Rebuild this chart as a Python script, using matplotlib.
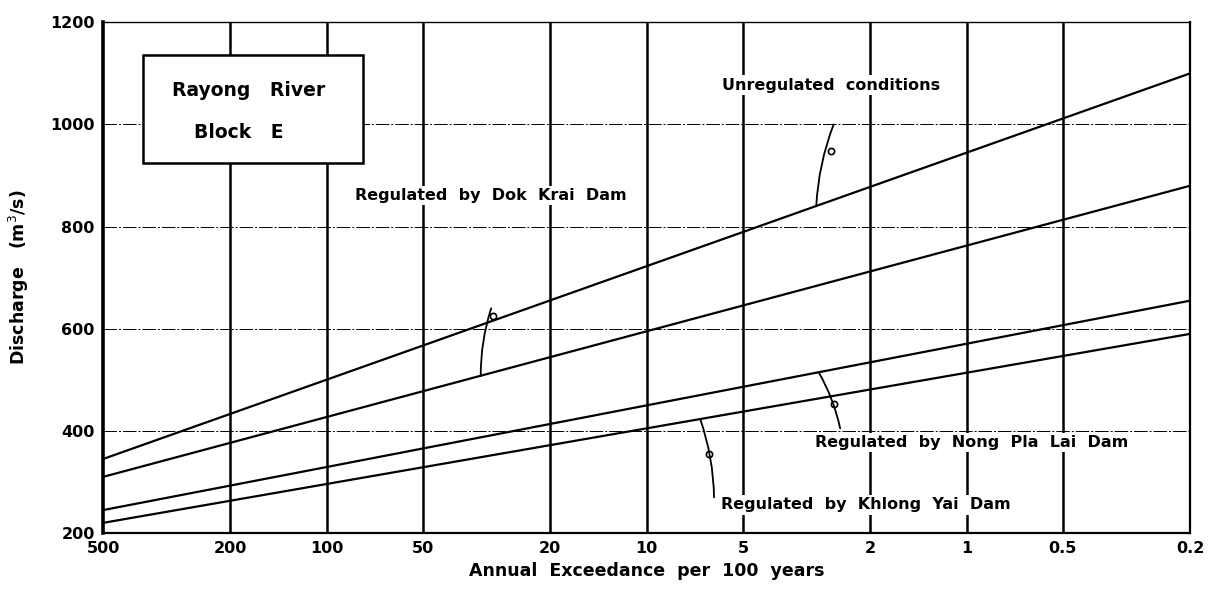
import numpy as np
import matplotlib.pyplot as plt
from matplotlib.patches import Rectangle

# Frequência de excedência (por 100 anos) e vazões das curvas
excedencia = [500, 0.2]
q_natural = [345, 1100]        # Unregulated conditions
q_dok_krai = [310, 880]
q_nong_pla_lai = [245, 655]
q_khlong_yai = [220, 590]

ticks_x = [500, 200, 100, 50, 20, 10, 5, 2, 1, 0.5, 0.2]
labels_x = ['500', '200', '100', '50', '20', '10', '5', '2', '1', '0.5', '0.2']
ticks_y = [200, 400, 600, 800, 1000, 1200]

fonte = {'family': 'DejaVu Sans', 'weight': 'bold', 'color': 'black'}

fig = plt.figure(figsize=(12.08, 6.01), dpi=100)
ax = fig.add_axes([0.0853, 0.113, 0.900, 0.850])

ax.set_xscale('log')
ax.set_xlim(500, 0.2)
ax.set_ylim(200, 1200)

# grade: verticais grossas, horizontais finas tracejadas
for t in ticks_x[1:-1]:
    ax.axvline(t, color='black', lw=1.8, zorder=1)
for t in ticks_y[1:-1]:
    ax.axhline(t, color='black', lw=0.7, ls=(0, (14, 2, 2, 2)), zorder=1)

# curvas
curvas = [q_natural, q_dok_krai, q_nong_pla_lai, q_khlong_yai]
for q in curvas:
    ax.plot(excedencia, q, color='black', lw=1.6, zorder=2, solid_capstyle='butt')

ax.set_xticks(ticks_x)
ax.set_xticklabels(labels_x)
ax.minorticks_off()
ax.set_yticks(ticks_y)
ax.tick_params(length=0, pad=6)
for lb in ax.get_xticklabels() + ax.get_yticklabels():
    lb.set_fontsize(11.5)
    lb.set_fontweight('bold')

ax.spines['left'].set_linewidth(2.6)
ax.spines['bottom'].set_linewidth(1.6)
ax.spines['right'].set_linewidth(1.6)
ax.spines['top'].set_linewidth(1.0)

ax.set_xlabel('Annual  Exceedance  per  100  years', fontdict=fonte, fontsize=12.5, labelpad=4)
ax.set_ylabel('Discharge   (m$^3$/s)', fontdict=fonte, fontsize=12.5, labelpad=14)

# quadro do título
ax.add_patch(Rectangle((0.037, 0.724), 0.202, 0.211, transform=ax.transAxes,
                       facecolor='white', edgecolor='black', lw=1.8, zorder=4))
ax.text(0.134, 0.867, 'Rayong   River', transform=ax.transAxes, ha='center', va='center',
        fontdict=fonte, fontsize=13.5, zorder=5)
ax.text(0.125, 0.785, 'Block   E', transform=ax.transAxes, ha='center', va='center',
        fontdict=fonte, fontsize=13.5, zorder=5)

caixa = dict(facecolor='white', edgecolor='none', pad=1.5)


def valor(q, e):
    # interpolação linear em log da excedência
    return np.interp(np.log10(e), np.log10(excedencia[::-1]), q[::-1])


# rótulos com linha de chamada:
# (texto, curva, excedência no ponto, posição do texto, fim da chamada, posição do laço)
rotulos = [
    ('Unregulated  conditions', q_natural, 2.95, (0.569, 0.877), (0.672, 0.80), 0.32),
    ('Regulated  by  Dok  Krai  Dam', q_dok_krai, 33.0, (0.232, 0.661), (0.357, 0.44), 0.12),
    ('Regulated  by  Nong  Pla  Lai  Dam', q_nong_pla_lai, 2.9, (0.655, 0.178), (0.678, 0.205), 0.43),
    ('Regulated  by  Khlong  Yai  Dam', q_khlong_yai, 6.8, (0.568, 0.055), (0.562, 0.070), 0.55),
]
for texto, q, e, pos, fim, f in rotulos:
    ax.text(pos[0], pos[1], texto, transform=ax.transAxes, ha='left', va='center',
            fontdict=fonte, fontsize=11.5, bbox=caixa, zorder=5)
    ax.annotate('', xy=(e, valor(q, e)), xycoords='data',
                xytext=fim, textcoords='axes fraction',
                arrowprops=dict(arrowstyle='-', color='black', lw=1.3,
                                connectionstyle='arc3,rad=0.08', shrinkA=0, shrinkB=0),
                zorder=3)
    # pequeno laço desenhado na chamada
    xa, ya = ax.transAxes.transform(fim)
    xb, yb = ax.transData.transform((e, valor(q, e)))
    xl = xa + f * (xb - xa) + 3
    yl = ya + f * (yb - ya)
    ax.plot(xl, yl, 'o', ms=4.5, mfc='none', mec='black', mew=1.2, transform=None, zorder=3)

plt.savefig('out.png', dpi=100)
